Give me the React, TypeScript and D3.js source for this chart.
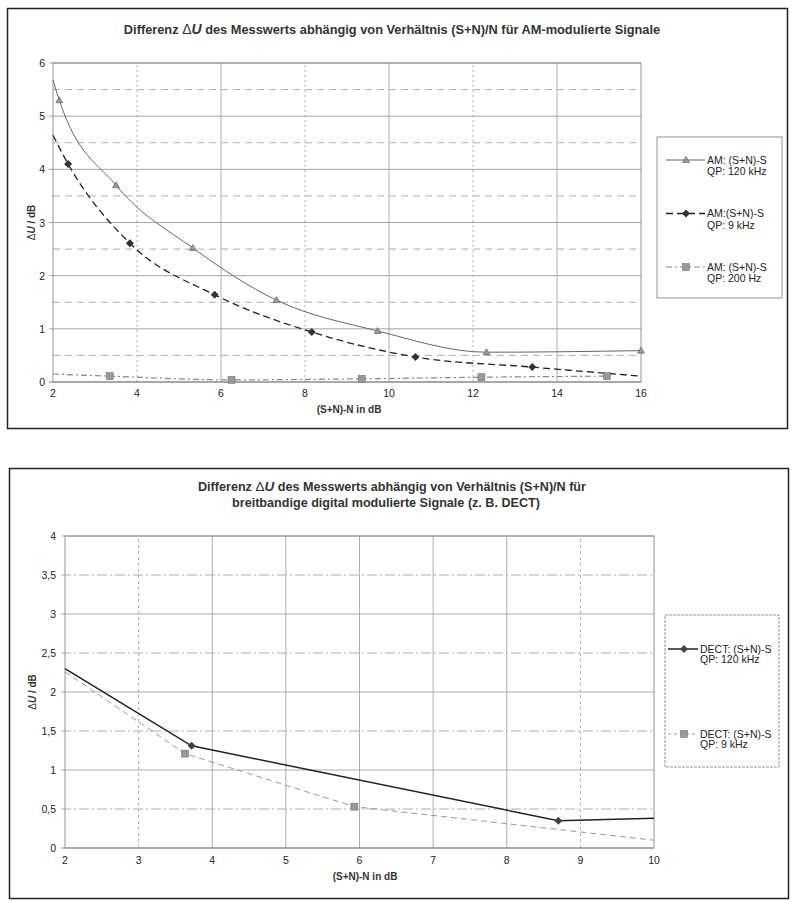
import React, { useEffect, useRef } from 'react';
import * as d3 from 'd3';

// ---- data ----
const amX120 = [2, 2.15, 3.5, 5.33, 7.32, 9.73, 12.32, 16];
const amY120 = [5.68, 5.3, 3.7, 2.52, 1.54, 0.96, 0.56, 0.59];
const amM120 = [false, true, true, true, true, true, true, true];

const amX9 = [2, 2.36, 3.83, 5.85, 8.16, 10.63, 13.41, 16];
const amY9 = [4.64, 4.1, 2.61, 1.64, 0.94, 0.47, 0.28, 0.11];
const amM9 = [false, true, true, true, true, true, true, false];

const amX200 = [2, 3.35, 6.25, 9.35, 12.2, 15.19];
const amY200 = [0.15, 0.11, 0.04, 0.06, 0.09, 0.11];
const amM200 = [false, true, true, true, true, true];

const dectX120 = [2, 3.72, 8.7, 10];
const dectY120 = [2.3, 1.31, 0.35, 0.38];
const dectM120 = [false, true, true, false];

const dectX9 = [2, 3.63, 5.93, 10];
const dectY9 = [2.26, 1.21, 0.53, 0.1];
const dectM9 = [false, true, true, false];

const topXTicks = [2, 4, 6, 8, 10, 12, 14, 16];
const topYTicks = [0, 1, 2, 3, 4, 5, 6];
const botXTicks = [2, 3, 4, 5, 6, 7, 8, 9, 10];
const botYTicks = [0, 0.5, 1, 1.5, 2, 2.5, 3, 3.5, 4];

const topLegend = [
  ['AM: (S+N)-S', 'QP: 120 kHz'],
  ['AM:(S+N)-S', 'QP: 9 kHz'],
  ['AM: (S+N)-S', 'QP: 200 Hz'],
];
const botLegend = [
  ['DECT: (S+N)-S', 'QP: 120 kHz'],
  ['DECT: (S+N)-S', 'QP: 9 kHz'],
];

const FONT = '"Liberation Sans", Arial, sans-serif';
const GRID = '#9a9a9a';

type Pt = [number, number];
const zip = (xs: number[], ys: number[]): Pt[] => xs.map((x, i) => [x, ys[i]]);

function drawMarker(g: any, kind: string, cx: number, cy: number, fill: string) {
  if (kind === 'tri') {
    g.append('path')
      .attr('d', `M${cx},${cy - 3.5} L${cx + 3.5},${cy + 2.5} L${cx - 3.5},${cy + 2.5} Z`)
      .attr('fill', fill).attr('stroke', '#555').attr('stroke-width', 0.6);
  } else if (kind === 'dia') {
    g.append('path')
      .attr('d', `M${cx},${cy - 4} L${cx + 4},${cy} L${cx},${cy + 4} L${cx - 4},${cy} Z`)
      .attr('fill', fill);
  } else {
    g.append('rect')
      .attr('x', cx - 3.5).attr('y', cy - 3.5).attr('width', 7).attr('height', 7)
      .attr('fill', fill).attr('stroke', '#666').attr('stroke-width', 0.5);
  }
}

export default function App() {
  const svgRef = useRef<SVGSVGElement | null>(null);

  useEffect(() => {
    const svg = d3.select(svgRef.current);
    svg.selectAll('*').remove();

    // outer frames
    svg.append('rect').attr('x', 7.5).attr('y', 8.5).attr('width', 780).attr('height', 420)
      .attr('fill', 'none').attr('stroke', '#222').attr('stroke-width', 1.5);
    svg.append('rect').attr('x', 9.5).attr('y', 468.5).attr('width', 779).attr('height', 430)
      .attr('fill', 'none').attr('stroke', '#222').attr('stroke-width', 1.5);

    // ================= TOP CHART =================
    {
      const x = d3.scaleLinear().domain([2, 16]).range([53, 641]);
      const y = d3.scaleLinear().domain([0, 6]).range([382, 63]);
      const g = svg.append('g');

      // half-step dashed horizontals
      d3.range(0.5, 6, 1).forEach(v => {
        g.append('line').attr('x1', x(2)).attr('x2', x(16)).attr('y1', y(v)).attr('y2', y(v))
          .attr('stroke', GRID).attr('stroke-width', 0.8).attr('stroke-dasharray', '7,5');
      });
      topYTicks.forEach(v => {
        g.append('line').attr('x1', x(2) - 4).attr('x2', x(16)).attr('y1', y(v)).attr('y2', y(v))
          .attr('stroke', v === 0 ? '#777' : GRID).attr('stroke-width', 0.9);
      });
      topXTicks.forEach((v, i) => {
        if (v === 2 || v === 16) return;
        g.append('line').attr('x1', x(v)).attr('x2', x(v)).attr('y1', y(0)).attr('y2', y(6))
          .attr('stroke', GRID).attr('stroke-width', 0.8)
          .attr('stroke-dasharray', i % 2 === 1 ? '2,3' : null);
      });
      g.append('rect').attr('x', x(2)).attr('y', y(6)).attr('width', x(16) - x(2)).attr('height', y(0) - y(6))
        .attr('fill', 'none').attr('stroke', '#888').attr('stroke-width', 0.9);

      // tick labels
      topYTicks.forEach(v => {
        g.append('text').attr('x', x(2) - 8).attr('y', y(v) + 4).attr('text-anchor', 'end')
          .attr('font-family', FONT).attr('font-size', 10.5).attr('fill', '#222').text(v);
      });
      topXTicks.forEach(v => {
        g.append('text').attr('x', x(v)).attr('y', 397).attr('text-anchor', 'middle')
          .attr('font-family', FONT).attr('font-size', 10.5).attr('fill', '#222').text(v);
      });

      const line = d3.line<Pt>().x(d => x(d[0])).y(d => y(d[1])).curve(d3.curveMonotoneX);
      const series = [
        { xs: amX120, ys: amY120, ms: amM120, stroke: '#666', w: 1, dash: null, mk: 'tri', mf: '#999' },
        { xs: amX9, ys: amY9, ms: amM9, stroke: '#222', w: 1.3, dash: '7,4', mk: 'dia', mf: '#333' },
        { xs: amX200, ys: amY200, ms: amM200, stroke: '#888', w: 1.2, dash: '6,3,2,3', mk: 'sq', mf: '#999' },
      ];
      series.forEach(s => {
        g.append('path').attr('d', line(zip(s.xs, s.ys)))
          .attr('fill', 'none').attr('stroke', s.stroke).attr('stroke-width', s.w)
          .attr('stroke-dasharray', s.dash);
        s.xs.forEach((xv, i) => {
          if (s.ms[i]) drawMarker(g, s.mk, x(xv), y(s.ys[i]), s.mf);
        });
      });

      // titles
      const t = svg.append('text').attr('x', 392).attr('y', 34).attr('text-anchor', 'middle')
        .attr('font-family', FONT).attr('font-size', 12.8).attr('font-weight', 'bold').attr('fill', '#333');
      t.append('tspan').text('Differenz  ');
      t.append('tspan').attr('font-weight', 'normal').attr('font-size', 14).text('Δ');
      t.append('tspan').attr('font-style', 'italic').attr('font-size', 14).text('U');
      t.append('tspan').text('  des Messwerts abhängig von Verhältnis (S+N)/N für AM-modulierte Signale');

      const yl = svg.append('text').attr('transform', `translate(35,${(y(0) + y(6)) / 2}) rotate(-90)`)
        .attr('text-anchor', 'middle').attr('font-family', FONT).attr('font-size', 10)
        .attr('font-weight', 'bold').attr('fill', '#333');
      yl.append('tspan').attr('font-weight', 'normal').text('Δ');
      yl.append('tspan').attr('font-style', 'italic').text('U');
      yl.append('tspan').text(' / dB');

      svg.append('text').attr('x', 349).attr('y', 413).attr('text-anchor', 'middle')
        .attr('font-family', FONT).attr('font-size', 10).attr('font-weight', 'bold').attr('fill', '#333')
        .text('(S+N)-N in dB');

      // legend
      svg.append('rect').attr('x', 657).attr('y', 137).attr('width', 125).attr('height', 161)
        .attr('fill', 'none').attr('stroke', '#888').attr('stroke-width', 0.9);
      topLegend.forEach((lbl, i) => {
        const ly = 160 + i * 53.5;
        const s = series[i];
        svg.append('line').attr('x1', 666).attr('x2', 705).attr('y1', ly).attr('y2', ly)
          .attr('stroke', s.stroke).attr('stroke-width', s.w).attr('stroke-dasharray', s.dash);
        drawMarker(svg, s.mk, 686, ly, s.mf);
        svg.append('text').attr('x', 707).attr('y', ly + 3.5).attr('font-family', FONT)
          .attr('font-size', 10.5).attr('fill', '#222').text(lbl[0]);
        svg.append('text').attr('x', 707).attr('y', ly + 15).attr('font-family', FONT)
          .attr('font-size', 10.5).attr('fill', '#222').text(lbl[1]);
      });
    }

    // ================= BOTTOM CHART =================
    {
      const x = d3.scaleLinear().domain([2, 10]).range([65, 654]);
      const y = d3.scaleLinear().domain([0, 4]).range([848, 536]);
      const g = svg.append('g');

      botYTicks.forEach(v => {
        const half = v % 1 !== 0;
        g.append('line').attr('x1', x(2) - 4).attr('x2', x(10)).attr('y1', y(v)).attr('y2', y(v))
          .attr('stroke', v === 0 ? '#777' : GRID).attr('stroke-width', 0.8)
          .attr('stroke-dasharray', half ? '10,3,2,3' : null);
      });
      botXTicks.forEach(v => {
        if (v === 2 || v === 10) return;
        g.append('line').attr('x1', x(v)).attr('x2', x(v)).attr('y1', y(0)).attr('y2', y(4))
          .attr('stroke', GRID).attr('stroke-width', 0.8)
          .attr('stroke-dasharray', v === 3 || v === 9 ? '3,3' : null);
      });
      g.append('rect').attr('x', x(2)).attr('y', y(4)).attr('width', x(10) - x(2)).attr('height', y(0) - y(4))
        .attr('fill', 'none').attr('stroke', '#888').attr('stroke-width', 0.9);

      botYTicks.forEach(v => {
        g.append('text').attr('x', x(2) - 9).attr('y', y(v) + 4).attr('text-anchor', 'end')
          .attr('font-family', FONT).attr('font-size', 10.5).attr('fill', '#222')
          .text(String(v).replace('.', ','));
      });
      botXTicks.forEach(v => {
        g.append('text').attr('x', x(v)).attr('y', 864).attr('text-anchor', 'middle')
          .attr('font-family', FONT).attr('font-size', 10.5).attr('fill', '#222').text(v);
      });

      const line = d3.line<Pt>().x(d => x(d[0])).y(d => y(d[1]));
      const series = [
        { xs: dectX120, ys: dectY120, ms: dectM120, stroke: '#222', w: 1.5, dash: null, mk: 'dia', mf: '#444' },
        { xs: dectX9, ys: dectY9, ms: dectM9, stroke: '#999', w: 1, dash: '6,4', mk: 'sq', mf: '#999' },
      ];
      series.forEach(s => {
        g.append('path').attr('d', line(zip(s.xs, s.ys)))
          .attr('fill', 'none').attr('stroke', s.stroke).attr('stroke-width', s.w)
          .attr('stroke-dasharray', s.dash);
        s.xs.forEach((xv, i) => {
          if (s.ms[i]) drawMarker(g, s.mk, x(xv), y(s.ys[i]), s.mf);
        });
      });

      const t1 = svg.append('text').attr('x', 392).attr('y', 491).attr('text-anchor', 'middle')
        .attr('font-family', FONT).attr('font-size', 12.6).attr('font-weight', 'bold').attr('fill', '#333');
      t1.append('tspan').text('Differenz ');
      t1.append('tspan').attr('font-weight', 'normal').attr('font-size', 13.5).text('Δ');
      t1.append('tspan').attr('font-style', 'italic').attr('font-size', 13.5).text('U');
      t1.append('tspan').text('  des Messwerts abhängig von Verhältnis (S+N)/N für');
      svg.append('text').attr('x', 386).attr('y', 507).attr('text-anchor', 'middle')
        .attr('font-family', FONT).attr('font-size', 12.6).attr('font-weight', 'bold').attr('fill', '#333')
        .text('breitbandige digital modulierte Signale (z. B. DECT)');

      const yl = svg.append('text').attr('transform', `translate(36,${(y(0) + y(4)) / 2}) rotate(-90)`)
        .attr('text-anchor', 'middle').attr('font-family', FONT).attr('font-size', 10)
        .attr('font-weight', 'bold').attr('fill', '#333');
      yl.append('tspan').attr('font-weight', 'normal').text('Δ');
      yl.append('tspan').attr('font-style', 'italic').text('U');
      yl.append('tspan').text(' / dB');

      svg.append('text').attr('x', 365).attr('y', 880).attr('text-anchor', 'middle')
        .attr('font-family', FONT).attr('font-size', 10).attr('font-weight', 'bold').attr('fill', '#333')
        .text('(S+N)-N in dB');

      svg.append('rect').attr('x', 665).attr('y', 615).attr('width', 114).attr('height', 152)
        .attr('fill', 'none').attr('stroke', '#888').attr('stroke-width', 0.9)
        .attr('stroke-dasharray', '3,1');
      botLegend.forEach((lbl, i) => {
        const ly = 649 + i * 85;
        const s = series[i];
        svg.append('line').attr('x1', 668).attr('x2', 698).attr('y1', ly).attr('y2', ly)
          .attr('stroke', s.stroke).attr('stroke-width', s.w).attr('stroke-dasharray', i === 1 ? '3,3' : null);
        drawMarker(svg, s.mk, 684, ly, s.mf);
        svg.append('text').attr('x', 700).attr('y', ly + 3.5).attr('font-family', FONT)
          .attr('font-size', 10.5).attr('fill', '#222').text(lbl[0]);
        svg.append('text').attr('x', 700).attr('y', ly + 14).attr('font-family', FONT)
          .attr('font-size', 10.5).attr('fill', '#222').text(lbl[1]);
      });
    }
  }, []);

  return (
    <svg
      ref={svgRef}
      width={799}
      height={902}
      style={{ position: 'absolute', left: 0, top: 0, background: '#fff' }}
    />
  );
}
